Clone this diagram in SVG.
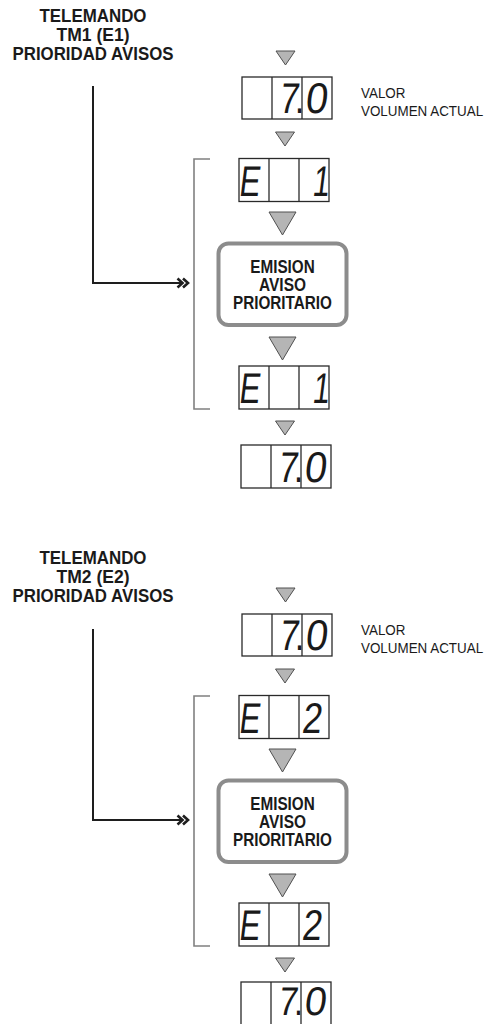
<svg xmlns="http://www.w3.org/2000/svg" width="489" height="1024" viewBox="0 0 489 1024">
<style>
.hdr{font-family:"Liberation Sans",Arial,sans-serif;font-weight:bold;font-size:18.5px;fill:#1a1a1a;text-anchor:middle}
.lbl{font-family:"Liberation Sans",Arial,sans-serif;font-size:13.4px;fill:#1a1a1a}
.emi{font-family:"Liberation Sans",Arial,sans-serif;font-weight:bold;font-size:17.5px;fill:#1a1a1a;text-anchor:middle}
.disp{fill:#fff;stroke:#2a2a2a;stroke-width:1.3}
.dv{stroke:#2a2a2a;stroke-width:1.3}
.seg{font-family:"Liberation Sans",Arial,sans-serif;font-size:43px;fill:#1a1a1a;text-anchor:middle}
.seg2{font-family:"Liberation Sans",Arial,sans-serif;font-size:40px;fill:#1a1a1a;text-anchor:middle}
.emibox{fill:#fff;stroke:#8c8c8c;stroke-width:4}
.wire{fill:none;stroke:#1e1e1e;stroke-width:2}
.brk{fill:none;stroke:#808080;stroke-width:1.6}
</style>
<defs>
<path id="ts" d="M-9.5,0H9.5L0,14Z" fill="#b5b5b5" stroke="#505050" stroke-width="1"/>
<path id="tb" d="M-13.5,0H13.5L0,23Z" fill="#b5b5b5" stroke="#505050" stroke-width="1"/>
<path id="ch" d="M-12,-4.5L-7,0L-12,4.5M-6.5,-4.5L-1.5,0L-6.5,4.5" fill="none" stroke="#1e1e1e" stroke-width="2.6"/>
</defs>

<!-- ===== First sequence ===== -->
<g id="header1">
<text class="hdr" x="93" y="22" textLength="107" lengthAdjust="spacingAndGlyphs">TELEMANDO</text>
<text class="hdr" x="93" y="41" textLength="73" lengthAdjust="spacingAndGlyphs">TM1 (E1)</text>
<text class="hdr" x="93" y="60" textLength="161" lengthAdjust="spacingAndGlyphs">PRIORIDAD AVISOS</text>
</g>

<g id="connectors1">
<path class="wire" d="M93,86V283H182"/>
<use href="#ch" x="189.5" y="283"/>
<path class="brk" d="M210,159H194V409H210"/>
<use href="#ts" x="285.5" y="51"/>
<use href="#ts" x="285" y="132"/>
<use href="#tb" x="282.5" y="212"/>
<use href="#tb" x="282.5" y="337"/>
<use href="#ts" x="285" y="421"/>
</g>

<g id="display1a">
<rect class="disp" x="242" y="77" width="90" height="42"/>
<line class="dv" x1="272" y1="77" x2="272" y2="119"/>
<line class="dv" x1="302" y1="77" x2="302" y2="119"/>
<text class="seg" transform="translate(288,113) skewX(-7) scale(0.8,1)">7</text>
<text class="seg" transform="translate(299.5,113) scale(0.8,1)">.</text>
<text class="seg" transform="translate(315.5,113) skewX(-7) scale(0.92,1)">0</text>
</g>

<g id="label1">
<text class="lbl" transform="translate(361,98) scale(1,1.15)">VALOR</text>
<text class="lbl" transform="translate(361,116) scale(1,1.15)">VOLUMEN ACTUAL</text>
</g>

<g id="displayE1a">
<rect class="disp" x="239" y="158.5" width="90" height="43"/>
<line class="dv" x1="269" y1="158.5" x2="269" y2="201.5"/>
<line class="dv" x1="299" y1="158.5" x2="299" y2="201.5"/>
<text class="seg" transform="translate(248.5,195.5) skewX(-7) scale(0.72,1)">E</text>
<text class="seg" transform="translate(320,195.5) skewX(-7) scale(0.7,1)">1</text>
</g>

<g id="emision1">
<rect class="emibox" x="218.5" y="243.5" width="128" height="81.5" rx="10"/>
<text class="emi" x="282.5" y="272.7" textLength="64.5" lengthAdjust="spacingAndGlyphs">EMISION</text>
<text class="emi" x="282.5" y="291" textLength="47" lengthAdjust="spacingAndGlyphs">AVISO</text>
<text class="emi" x="282.5" y="309.3" textLength="99" lengthAdjust="spacingAndGlyphs">PRIORITARIO</text>
</g>

<g id="displayE1b">
<rect class="disp" x="239" y="366" width="90" height="43"/>
<line class="dv" x1="269" y1="366" x2="269" y2="409"/>
<line class="dv" x1="299" y1="366" x2="299" y2="409"/>
<text class="seg" transform="translate(248.5,403) skewX(-7) scale(0.72,1)">E</text>
<text class="seg" transform="translate(320,403) skewX(-7) scale(0.7,1)">1</text>
</g>

<g id="display1b">
<rect class="disp" x="241" y="445" width="90" height="43"/>
<line class="dv" x1="271" y1="445" x2="271" y2="488"/>
<line class="dv" x1="301" y1="445" x2="301" y2="488"/>
<text class="seg" transform="translate(287,481.5) skewX(-7) scale(0.8,1)">7</text>
<text class="seg" transform="translate(298.5,481.5) scale(0.8,1)">.</text>
<text class="seg" transform="translate(314.5,481.5) skewX(-7) scale(0.92,1)">0</text>
</g>

<!-- ===== Second sequence ===== -->
<g id="header2">
<text class="hdr" x="93" y="564" textLength="107" lengthAdjust="spacingAndGlyphs">TELEMANDO</text>
<text class="hdr" x="93" y="583" textLength="73" lengthAdjust="spacingAndGlyphs">TM2 (E2)</text>
<text class="hdr" x="93" y="602" textLength="161" lengthAdjust="spacingAndGlyphs">PRIORIDAD AVISOS</text>
</g>

<g id="connectors2">
<path class="wire" d="M93,629V820H182"/>
<use href="#ch" x="189.5" y="820"/>
<path class="brk" d="M210,696H194V946H210"/>
<use href="#ts" x="285.5" y="588"/>
<use href="#ts" x="285" y="669"/>
<use href="#tb" x="282.5" y="749"/>
<use href="#tb" x="282.5" y="874"/>
<use href="#ts" x="285" y="958"/>
</g>

<g id="display2a">
<rect class="disp" x="242" y="614" width="90" height="42"/>
<line class="dv" x1="272" y1="614" x2="272" y2="656"/>
<line class="dv" x1="302" y1="614" x2="302" y2="656"/>
<text class="seg" transform="translate(288,650) skewX(-7) scale(0.8,1)">7</text>
<text class="seg" transform="translate(299.5,650) scale(0.8,1)">.</text>
<text class="seg" transform="translate(315.5,650) skewX(-7) scale(0.92,1)">0</text>
</g>

<g id="label2">
<text class="lbl" transform="translate(361,635) scale(1,1.15)">VALOR</text>
<text class="lbl" transform="translate(361,653) scale(1,1.15)">VOLUMEN ACTUAL</text>
</g>

<g id="displayE2a">
<rect class="disp" x="239" y="695.5" width="90" height="43"/>
<line class="dv" x1="269" y1="695.5" x2="269" y2="738.5"/>
<line class="dv" x1="299" y1="695.5" x2="299" y2="738.5"/>
<text class="seg" transform="translate(248.5,732.5) skewX(-7) scale(0.72,1)">E</text>
<text class="seg" transform="translate(311,732.5) skewX(-7) scale(0.82,1)">2</text>
</g>

<g id="emision2">
<rect class="emibox" x="218.5" y="780.5" width="128" height="81.5" rx="10"/>
<text class="emi" x="282.5" y="809.7" textLength="64.5" lengthAdjust="spacingAndGlyphs">EMISION</text>
<text class="emi" x="282.5" y="828" textLength="47" lengthAdjust="spacingAndGlyphs">AVISO</text>
<text class="emi" x="282.5" y="846.3" textLength="99" lengthAdjust="spacingAndGlyphs">PRIORITARIO</text>
</g>

<g id="displayE2b">
<rect class="disp" x="239" y="903" width="90" height="43"/>
<line class="dv" x1="269" y1="903" x2="269" y2="946"/>
<line class="dv" x1="299" y1="903" x2="299" y2="946"/>
<text class="seg" transform="translate(248.5,940) skewX(-7) scale(0.72,1)">E</text>
<text class="seg" transform="translate(311,940) skewX(-7) scale(0.82,1)">2</text>
</g>

<g id="display2b">
<rect class="disp" x="241" y="982" width="90" height="43"/>
<line class="dv" x1="271" y1="982" x2="271" y2="1025"/>
<line class="dv" x1="301" y1="982" x2="301" y2="1025"/>
<text class="seg2" transform="translate(287,1015) skewX(-7) scale(0.85,1)">7</text>
<text class="seg2" transform="translate(298.5,1015) scale(0.8,1)">.</text>
<text class="seg2" transform="translate(314.5,1015) skewX(-7) scale(0.98,1)">0</text>
</g>
</svg>
